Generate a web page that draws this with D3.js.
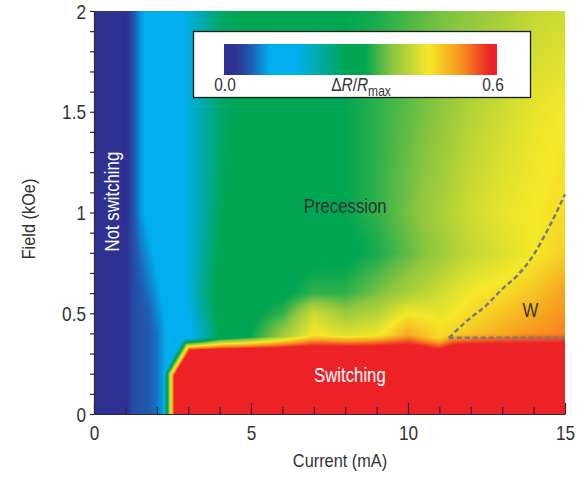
<!DOCTYPE html>
<html>
<head>
<meta charset="utf-8">
<script src="https://cdn.jsdelivr.net/npm/d3@7"></script>
<style>
    body { margin: 0; background: #fff; }
    svg text { font-family: "Liberation Sans", Arial, sans-serif; }
</style>
</head>
<body>
<div id="chart"></div>
<script>
// grid of the measured map (current in mA, field in kOe)
const currentGrid = [0, 0.5, 1, 1.25, 1.5, 1.75, 2, 2.5, 3, 3.5, 4, 5, 6, 7, 8, 9, 10, 11, 12, 13, 14, 15];
const fieldGrid = [0, 0.2, 0.4, 0.5, 0.6, 0.8, 1.0, 1.5, 2.0];

// dR/Rmax along each field row
const dR_f00 = [0, 0, 0.02, 0.045, 0.05, 0.055, 0.07, 0.12, 0.15, 0.2, 0.27, 0.33, 0.4, 0.45, 0.45, 0.46, 0.5, 0.47, 0.48, 0.5, 0.52, 0.53];
const dR_f02 = [0, 0, 0.02, 0.045, 0.05, 0.055, 0.07, 0.12, 0.15, 0.2, 0.27, 0.33, 0.4, 0.45, 0.45, 0.46, 0.5, 0.47, 0.48, 0.5, 0.52, 0.53];
const dR_f04 = [0, 0, 0.02, 0.045, 0.05, 0.055, 0.07, 0.12, 0.15, 0.2, 0.27, 0.31, 0.38, 0.45, 0.43, 0.44, 0.5, 0.46, 0.48, 0.5, 0.52, 0.53];
const dR_f05 = [0, 0, 0.02, 0.045, 0.05, 0.06, 0.08, 0.12, 0.16, 0.22, 0.28, 0.3, 0.33, 0.42, 0.38, 0.4, 0.45, 0.44, 0.46, 0.48, 0.5, 0.52];
const dR_f06 = [0, 0, 0.02, 0.045, 0.055, 0.07, 0.09, 0.13, 0.17, 0.23, 0.28, 0.3, 0.3, 0.33, 0.33, 0.36, 0.39, 0.42, 0.45, 0.46, 0.48, 0.51];
const dR_f08 = [0, 0, 0.02, 0.045, 0.07, 0.09, 0.11, 0.14, 0.17, 0.22, 0.27, 0.3, 0.3, 0.3, 0.3, 0.32, 0.35, 0.38, 0.41, 0.43, 0.45, 0.47];
const dR_f10 = [0, 0, 0.02, 0.05, 0.09, 0.11, 0.12, 0.14, 0.17, 0.21, 0.26, 0.3, 0.3, 0.3, 0.31, 0.33, 0.36, 0.39, 0.42, 0.44, 0.45, 0.46];
const dR_f15 = [0, 0, 0.02, 0.05, 0.09, 0.11, 0.12, 0.14, 0.17, 0.21, 0.25, 0.29, 0.3, 0.3, 0.31, 0.33, 0.35, 0.37, 0.4, 0.42, 0.44, 0.45];
const dR_f20 = [0, 0, 0.02, 0.05, 0.09, 0.11, 0.12, 0.14, 0.17, 0.21, 0.25, 0.28, 0.29, 0.3, 0.31, 0.32, 0.34, 0.36, 0.37, 0.39, 0.41, 0.42];
const deltaRRows = [dR_f00, dR_f02, dR_f04, dR_f05, dR_f06, dR_f08, dR_f10, dR_f15, dR_f20];

// edge of the switching region (dR/Rmax = 0.6 inside)
const switchCurrent = [2.38, 2.38, 2.95, 4, 5, 6, 7, 8, 9, 10, 10.5, 11, 11.4, 12, 15];
const switchField = [0, 0.2, 0.345, 0.35, 0.352, 0.355, 0.362, 0.36, 0.362, 0.366, 0.356, 0.345, 0.365, 0.37, 0.37];
const switchValue = 0.6;

// dashed boundary of the W region
const wCurrent = [11.3, 11.9, 12.5, 13.0, 13.5, 14.0, 14.5, 15.0];
const wField = [0.378, 0.465, 0.54, 0.62, 0.69, 0.79, 0.93, 1.09];
const wFloorCurrent = [11.3, 15];
const wFloorField = [0.378, 0.378];

// colour scale
const colorStops = [0, 0.025, 0.06, 0.1, 0.16, 0.27, 0.31, 0.37, 0.45, 0.52, 0.585, 0.6];
const colorHex = ["#2e3192", "#2e3192", "#1f5fb4", "#00aeef", "#00aeef", "#00a651", "#00a651", "#8dc63f", "#f5e829", "#f7941d", "#ec2227", "#ec2227"];

const xTicks = d3.range(0, 16);
const yTicks = d3.range(0, 21).map(i => i / 10);

const width = 586;
const height = 478;
const margin = { top: 11, right: 21, bottom: 64, left: 94 };
const narrow = 0.86; // horizontal squeeze to mimic a condensed face

const x = d3.scaleLinear().domain([0, 15]).range([margin.left, width - margin.right]);
const y = d3.scaleLinear().domain([0, 2]).range([height - margin.bottom, margin.top]);
const color = d3.scaleLinear().domain(colorStops).range(colorHex).clamp(true);

const svg = d3.select("#chart").append("svg")
    .attr("width", width)
    .attr("height", height)
    .attr("viewBox", [0, 0, width, height]);

function label(parent, px, py, txt, size, fill, rotate) {
    return parent.append("text")
        .attr("transform", `translate(${px}, ${py})${rotate ? ` rotate(${rotate})` : ""} scale(${narrow}, 1)`)
        .attr("text-anchor", "middle")
        .attr("font-size", size)
        .attr("fill", fill)
        .text(txt);
}

//============================ HEATMAP ============================//
function bgValue(c, f) {
    let i = Math.max(0, Math.min(currentGrid.length - 2, d3.bisectRight(currentGrid, c) - 1));
    let j = Math.max(0, Math.min(fieldGrid.length - 2, d3.bisectRight(fieldGrid, f) - 1));
    let tx = Math.max(0, Math.min(1, (c - currentGrid[i]) / (currentGrid[i + 1] - currentGrid[i])));
    let ty = Math.max(0, Math.min(1, (f - fieldGrid[j]) / (fieldGrid[j + 1] - fieldGrid[j])));
    let a = deltaRRows[j][i] * (1 - tx) + deltaRRows[j][i + 1] * tx;
    let b = deltaRRows[j + 1][i] * (1 - tx) + deltaRRows[j + 1][i + 1] * tx;
    return a * (1 - ty) + b * ty;
}

// switching polygon in pixels, pushed past the plot edges so only its edge shows
let poly = switchCurrent.map((c, k) => [x(c), y(switchField[k])]);
poly[0][1] = y(-0.2);
poly.push([x(16), y(switchField[switchField.length - 1])]);
poly.push([x(16), y(-0.2)]);

function signedDist(px, py) {
    let inside = false;
    let best = Infinity;
    for (let k = 0, m = poly.length - 1; k < poly.length; m = k++) {
        let [x1, y1] = poly[m];
        let [x2, y2] = poly[k];
        if ((y2 > py) !== (y1 > py) && px < (x1 - x2) * (py - y2) / (y1 - y2) + x2) inside = !inside;
        let dx = x2 - x1, dy = y2 - y1;
        let t = ((px - x1) * dx + (py - y1) * dy) / (dx * dx + dy * dy || 1);
        t = Math.max(0, Math.min(1, t));
        let ex = x1 + t * dx - px, ey = y1 + t * dy - py;
        best = Math.min(best, Math.hypot(ex, ey));
    }
    return inside ? best : -best;
}

const plotW = Math.round(x(15) - x(0));
const plotH = Math.round(y(0) - y(2));
const lut = d3.range(0, 601).map(k => d3.rgb(color(k / 1000)));

const canvas = document.createElement("canvas");
canvas.width = plotW;
canvas.height = plotH;
const ctx = canvas.getContext("2d");
const img = ctx.createImageData(plotW, plotH);
const edge = 6;
for (let py = 0; py < plotH; py++) {
    for (let px = 0; px < plotW; px++) {
        let sx = x(0) + px + 0.5;
        let sy = y(2) + py + 0.5;
        let bg = bgValue(x.invert(sx), y.invert(sy));
        let s = Math.max(0, Math.min(1, 0.5 + signedDist(sx, sy) / (2 * edge)));
        let v = bg + (switchValue - bg) * s;
        let c = lut[Math.max(0, Math.min(600, Math.round(v * 1000)))];
        let o = (py * plotW + px) * 4;
        img.data[o] = c.r;
        img.data[o + 1] = c.g;
        img.data[o + 2] = c.b;
        img.data[o + 3] = 255;
    }
}
ctx.putImageData(img, 0, 0);

svg.append("image")
    .attr("x", x(0))
    .attr("y", y(2))
    .attr("width", plotW)
    .attr("height", plotH)
    .attr("preserveAspectRatio", "none")
    .attr("href", canvas.toDataURL());

// W boundary, dashed
const line = d3.line().x(d => x(d[0])).y(d => y(d[1]));
svg.append("path")
    .attr("d", line(wFloorCurrent.map((c, k) => [c, wFloorField[k]])))
    .attr("fill", "none")
    .attr("stroke", "#7a7a7a")
    .attr("stroke-width", 2.5)
    .attr("stroke-dasharray", "5,3");
svg.append("path")
    .attr("d", line.curve(d3.curveMonotoneX)(wCurrent.map((c, k) => [c, wField[k]])))
    .attr("fill", "none")
    .attr("stroke", "#7a7a7a")
    .attr("stroke-width", 2.5)
    .attr("stroke-dasharray", "5,3");

//============================ AXES ============================//
const xAxis = svg.append("g")
    .attr("transform", `translate(0, ${y(0)})`)
    .call(d3.axisBottom(x).tickValues(xTicks).tickSize(-7).tickSizeOuter(0)
        .tickFormat(d => (d % 5 === 0 ? d : "")));
xAxis.selectAll(".tick line").filter(d => d % 5 === 0).attr("y2", -11);
xAxis.selectAll(".tick text")
    .attr("y", 12)
    .attr("font-size", 20)
    .attr("fill", "#333")
    .attr("transform", `scale(${narrow}, 1)`);
xAxis.selectAll("line, path").attr("stroke", "#2a2a2a").attr("stroke-width", 1.2);
xAxis.attr("font-family", null);

const yAxis = svg.append("g")
    .attr("transform", `translate(${x(0)}, 0)`)
    .call(d3.axisLeft(y).tickValues(yTicks).tickSize(4).tickPadding(4).tickSizeOuter(0)
        .tickFormat(d => (Math.round(d * 10) % 5 === 0 ? d3.format("~g")(d) : "")));
yAxis.selectAll(".tick text")
    .attr("font-size", 20)
    .attr("fill", "#333")
    .attr("dy", "0.36em")
    .attr("x", -8 / narrow)
    .attr("transform", `scale(${narrow}, 1)`);
yAxis.selectAll("line, path").attr("stroke", "#2a2a2a").attr("stroke-width", 1.2);
yAxis.attr("font-family", null);

label(svg, 340, 467, "Current (mA)", 19, "#333");
label(svg, 29, 219, "Field (kOe)", 19, "#333", -90).attr("dominant-baseline", "central");

//============================ LABELS ============================//
label(svg, x(0.58), y(1.054), "Not switching", 19.5, "#fff", -90).attr("dominant-baseline", "central");
label(svg, x(8.0), y(1.0), "Precession", 19.5, "#333");
label(svg, x(8.15), y(0.161), "Switching", 19.5, "#fff");
label(svg, x(13.9), y(0.479), "W", 19.5, "#333");

//============================ COLOUR BAR ============================//
const cbar = d3.scaleLinear().domain([0, 0.6]).range([224, 497]);

const grad = svg.append("defs").append("linearGradient").attr("id", "cbGrad");
grad.selectAll("stop")
    .data(colorStops)
    .join("stop")
    .attr("offset", d => d / 0.6)
    .attr("stop-color", (d, k) => colorHex[k]);

const legend = svg.append("g");
legend.append("rect")
    .attr("x", 193.5)
    .attr("y", 31.5)
    .attr("width", 337)
    .attr("height", 66)
    .attr("fill", "#fff")
    .attr("stroke", "#1a1a1a")
    .attr("stroke-width", 1.3);

legend.append("rect")
    .attr("x", cbar(0))
    .attr("y", 44)
    .attr("width", cbar(0.6) - cbar(0))
    .attr("height", 31)
    .attr("fill", "url(#cbGrad)");

label(legend, cbar(0) + 1, 91, "0.0", 18, "#333");
label(legend, cbar(0.6) - 4, 91, "0.6", 18, "#333");

const unit = label(legend, 361, 91, "", 18, "#333");
unit.append("tspan").text("\u0394");
unit.append("tspan").attr("font-style", "italic").text("R");
unit.append("tspan").text("/");
unit.append("tspan").attr("font-style", "italic").text("R");
unit.append("tspan").attr("font-size", 14).attr("dy", 5).text("max");
</script>
</body>
</html>
